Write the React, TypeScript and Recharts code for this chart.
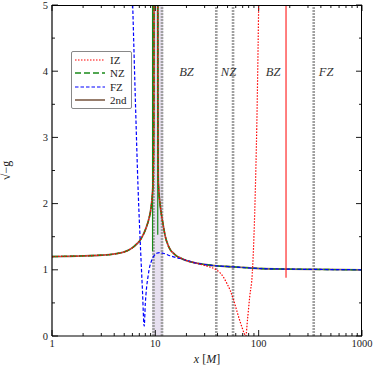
import {
  ComposedChart,
  Line,
  XAxis,
  YAxis,
  ReferenceLine,
  ReferenceArea,
  ReferenceDot,
  Legend,
} from "recharts";

const FONT = "'Liberation Serif', 'DejaVu Serif', serif";

// ticks
const xMajor = [1, 10, 100, 1000];
const xMinor = [2, 3, 4, 5, 6, 7, 8, 9, 20, 30, 40, 50, 60, 70, 80, 90, 200, 300, 400, 500, 600, 700, 800, 900];
const yMajor = [0, 1, 2, 3, 4, 5];
const yMinor = [0.5, 1.5, 2.5, 3.5, 4.5];

// series values, [x, sqrt(-g)]
const secondOrder = [
  [1, 1.2], [1.5, 1.205], [2, 1.21], [2.9, 1.22], [3.6, 1.23], [4.2, 1.245], [5, 1.27], [5.7, 1.31],
  [6.2, 1.35], [6.6, 1.39], [7.0, 1.43], [7.4, 1.49], [7.8, 1.56], [8.25, 1.66], [8.6, 1.75],
  [8.9, 1.85], [9.2, 2.0], [9.4, 2.17], [9.55, 2.4], [9.63, 2.9], [9.68, 3.6], [9.75, 8],
  [10.5, 8], [10.58, 3.6], [10.65, 2.4], [10.8, 2.2], [11.1, 2.0], [11.5, 1.82], [11.9, 1.68],
  [12.5, 1.5], [13.3, 1.37], [14, 1.3], [15, 1.25], [16, 1.21], [17.4, 1.18], [20, 1.14],
  [25, 1.1], [30, 1.08], [39, 1.06], [56, 1.045], [100, 1.02], [200, 1.01], [400, 1.005],
  [1000, 1.0],
];
const nearZone = secondOrder;
const nzSpikeA = [[9.4, 1.28], [9.4, 5]];
const nzSpikeB = [[10.55, 1.53], [10.55, 5]];
const farZone = [
  [6.04, 5], [6.4, 3.6], [6.8, 2.25], [7.2, 1.3], [7.5, 0.7], [7.8, 0.15], [8.0, 0.49],
  [8.24, 0.74], [8.5, 0.9], [8.7, 1.0], [9.2, 1.14], [9.7, 1.21], [10.3, 1.25], [11.0, 1.26],
  [11.9, 1.25], [14, 1.21], [17.4, 1.17], [20.3, 1.14], [25, 1.1], [30, 1.08], [39, 1.06],
  [56, 1.045], [100, 1.02], [200, 1.01], [400, 1.005], [1000, 1.0],
];
const innerZone = [
  [1, 1.2], [1.5, 1.205], [2, 1.21], [2.9, 1.22], [3.6, 1.23], [4.2, 1.245], [5, 1.27], [5.7, 1.31],
  [6.2, 1.35], [6.6, 1.39], [7.0, 1.43], [7.4, 1.49], [7.8, 1.56], [8.25, 1.66], [8.6, 1.75],
  [8.9, 1.85], [9.2, 2.0], [9.4, 2.17], [9.55, 2.4], [9.63, 2.9], [9.68, 3.6], [9.75, 8],
  [10.5, 8], [10.58, 3.6], [10.65, 2.4], [10.8, 2.2], [11.1, 2.0], [11.5, 1.82], [11.9, 1.68],
  [12.5, 1.5], [13.3, 1.37], [14, 1.3], [15, 1.25], [16, 1.21], [17.4, 1.18], [20, 1.14],
  [25, 1.1], [30, 1.065], [34, 1.04], [38.9, 1.0], [42.6, 0.95], [46, 0.88], [49.4, 0.79],
  [53, 0.69], [57, 0.55], [62, 0.36], [66, 0.22], [69, 0.13], [72, 0.05], [75, 0.0],
  [78, 0.25], [82, 0.6], [86.7, 0.94], [90, 1.5], [93, 2.25], [97, 3.6], [100, 5],
];
const innerZonePole = [[184, 0.88], [184, 5]];

// zone boundaries and labels
const boundaries = [9.6, 11.6, 38.9, 56.5, 341];
const shadedBand = [9.3, 11.9];
const zoneLabels = [
  { x: 20, text: "BZ" },
  { x: 51, text: "NZ" },
  { x: 138, text: "BZ" },
  { x: 449, text: "FZ" },
];

const toPts = (arr: number[][]) => arr.map(([x, y]) => ({ x, y }));

const styles: Record<string, { stroke: string; dash?: string; width: number }> = {
  IZ: { stroke: "#ff0000", dash: "1.5 1.5", width: 1.2 },
  NZ: { stroke: "#1a8a1a", dash: "6 3", width: 1.4 },
  FZ: { stroke: "#0000ff", dash: "3.5 2", width: 1.2 },
  "2nd": { stroke: "#8c6f5c", width: 1.8 },
};
const legendOrder = ["IZ", "NZ", "FZ", "2nd"];

function BottomTick({ x, y, payload }: any) {
  const major = xMajor.includes(payload.value);
  return (
    <g>
      <line x1={x} x2={x} y1={y} y2={y - (major ? 6 : 3)} stroke="#000" strokeWidth={0.9} />
      {major && (
        <text x={x} y={y + 11} textAnchor="middle" fontSize={10.5} fontFamily={FONT} fill="#222">
          {payload.value}
        </text>
      )}
    </g>
  );
}

function LeftTick({ x, y, payload }: any) {
  const major = yMajor.includes(payload.value);
  return (
    <g>
      <line x1={x} x2={x + (major ? 6 : 3)} y1={y} y2={y} stroke="#000" strokeWidth={0.9} />
      {major && (
        <text x={x - 4} y={y + 3.5} textAnchor="end" fontSize={10.5} fontFamily={FONT} fill="#222">
          {payload.value}
        </text>
      )}
    </g>
  );
}

// inward tick marks on the top edge, placed by the x scale
const topTick = (len: number) => (p: any) => {
  const top = Math.min(p.y1, p.y2);
  return <line x1={p.x1} x2={p.x1} y1={top} y2={top + len} stroke="#000" strokeWidth={0.9} />;
};
// inward tick marks on the right edge, placed by the y scale
const rightTick = (len: number) => (p: any) => {
  const right = Math.max(p.x1, p.x2);
  return <line x1={right} x2={right - len} y1={p.y1} y2={p.y1} stroke="#000" strokeWidth={0.9} />;
};

function LegendBox({ payload }: any) {
  const items = legendOrder.filter((n) => (payload || []).some((p: any) => p.value === n));
  return (
    <div
      style={{
        border: "1px solid #888",
        borderRadius: 2,
        background: "#fff",
        padding: "1px 0",
        width: 59,
        fontFamily: FONT,
        fontSize: 11,
      }}
    >
      {items.map((n) => {
        const s = styles[n];
        return (
          <div key={n} style={{ display: "flex", alignItems: "center", height: 13.5 }}>
            <svg width={36} height={8} style={{ marginLeft: 2 }}>
              <line x1={1} x2={31} y1={4} y2={4} stroke={s.stroke} strokeWidth={s.width} strokeDasharray={s.dash} />
            </svg>
            <span style={{ color: "#222" }}>{n}</span>
          </div>
        );
      })}
    </div>
  );
}

export default function App() {
  return (
    <div style={{ position: "absolute", left: 0, top: 0, width: 374, height: 374, background: "#fff" }}>
      <ComposedChart width={374} height={374} margin={{ top: 5, right: 12, bottom: 0, left: 12 }}>
        <XAxis
          dataKey="x"
          type="number"
          scale="log"
          domain={[1, 1000]}
          allowDataOverflow
          ticks={[...xMajor, ...xMinor]}
          interval={0}
          tick={<BottomTick />}
          tickLine={false}
          tickSize={0}
          tickMargin={0}
          height={38}
          stroke="#000"
          strokeWidth={1.2}
          label={{
            content: ({ viewBox }: any) => (
              <text
                x={viewBox.x + viewBox.width / 2}
                y={363}
                textAnchor="middle"
                fontSize={12}
                fontFamily={FONT}
                fill="#222"
              >
                <tspan fontStyle="italic">x</tspan> [<tspan fontStyle="italic">M</tspan>]
              </text>
            ),
          }}
        />
        <YAxis
          type="number"
          domain={[0, 5]}
          allowDataOverflow
          ticks={[...yMajor, ...yMinor]}
          interval={0}
          tick={<LeftTick />}
          tickLine={false}
          tickSize={0}
          tickMargin={0}
          width={40}
          stroke="#000"
          strokeWidth={1.2}
          label={{
            content: ({ viewBox }: any) => {
              const cx = viewBox.x - 2;
              const cy = viewBox.y + viewBox.height / 2;
              return (
                <text
                  x={cx}
                  y={cy}
                  transform={`rotate(-90 ${cx} ${cy})`}
                  textAnchor="middle"
                  fontSize={12}
                  fontFamily={FONT}
                  fill="#222"
                >
                  √<tspan textDecoration="overline">−g</tspan>
                </text>
              );
            },
          }}
        />

        <ReferenceArea x1={shadedBand[0]} x2={shadedBand[1]} fill="#ddd3ea" fillOpacity={0.7} stroke="none" />
        {boundaries.map((b) => (
          <ReferenceLine key={b} x={b} stroke="#a0a0a0" strokeWidth={2.6} strokeDasharray="2 1" />
        ))}
        {zoneLabels.map((z) => (
          <ReferenceDot
            key={z.x}
            x={z.x}
            y={4}
            r={0}
            fill="none"
            stroke="none"
            label={{
              value: z.text,
              position: "center",
              fontSize: 12.5,
              fontStyle: "italic",
              fontFamily: FONT,
              fill: "#333",
            }}
          />
        ))}
        {xMajor.concat(xMinor).map((t) => (
          <ReferenceLine key={`t${t}`} x={t} ifOverflow="visible" shape={topTick(xMajor.includes(t) ? 6 : 3)} />
        ))}
        {yMajor.concat(yMinor).map((t) => (
          <ReferenceLine key={`r${t}`} y={t} ifOverflow="visible" shape={rightTick(yMajor.includes(t) ? 6 : 3)} />
        ))}

        <Line
          data={toPts(secondOrder)}
          type="monotone"
          dataKey="y"
          name="2nd"
          stroke={styles["2nd"].stroke}
          strokeWidth={styles["2nd"].width}
          dot={false}
          isAnimationActive={false}
        />
        <Line
          data={toPts(nearZone)}
          type="monotone"
          dataKey="y"
          name="NZ"
          stroke={styles.NZ.stroke}
          strokeWidth={styles.NZ.width}
          strokeDasharray={styles.NZ.dash}
          dot={false}
          isAnimationActive={false}
        />
        <Line
          data={toPts(nzSpikeA)}
          dataKey="y"
          name="nzA"
          legendType="none"
          stroke={styles.NZ.stroke}
          strokeWidth={1.2}
          dot={false}
          isAnimationActive={false}
        />
        <Line
          data={toPts(nzSpikeB)}
          dataKey="y"
          name="nzB"
          legendType="none"
          stroke={styles.NZ.stroke}
          strokeWidth={1.2}
          dot={false}
          isAnimationActive={false}
        />
        <Line
          data={toPts(farZone)}
          type="monotone"
          dataKey="y"
          name="FZ"
          stroke={styles.FZ.stroke}
          strokeWidth={styles.FZ.width}
          strokeDasharray={styles.FZ.dash}
          dot={false}
          isAnimationActive={false}
        />
        <Line
          data={toPts(innerZone)}
          type="monotone"
          dataKey="y"
          name="IZ"
          stroke={styles.IZ.stroke}
          strokeWidth={styles.IZ.width}
          strokeDasharray={styles.IZ.dash}
          dot={false}
          isAnimationActive={false}
        />
        <Line
          data={toPts(innerZonePole)}
          dataKey="y"
          name="izPole"
          legendType="none"
          stroke={styles.IZ.stroke}
          strokeWidth={1}
          dot={false}
          isAnimationActive={false}
        />

        <Legend
          layout="vertical"
          align="center"
          verticalAlign="middle"
          content={<LegendBox />}
          wrapperStyle={{ left: 71, top: 51, width: 61, height: "auto" }}
        />
      </ComposedChart>
      {/* top and right edges of the axes box */}
      <div
        style={{
          position: "absolute",
          left: 52,
          top: 4.5,
          width: 310,
          height: 331,
          borderTop: "1.2px solid #000",
          borderRight: "1.2px solid #000",
          pointerEvents: "none",
          boxSizing: "border-box",
        }}
      />
    </div>
  );
}
